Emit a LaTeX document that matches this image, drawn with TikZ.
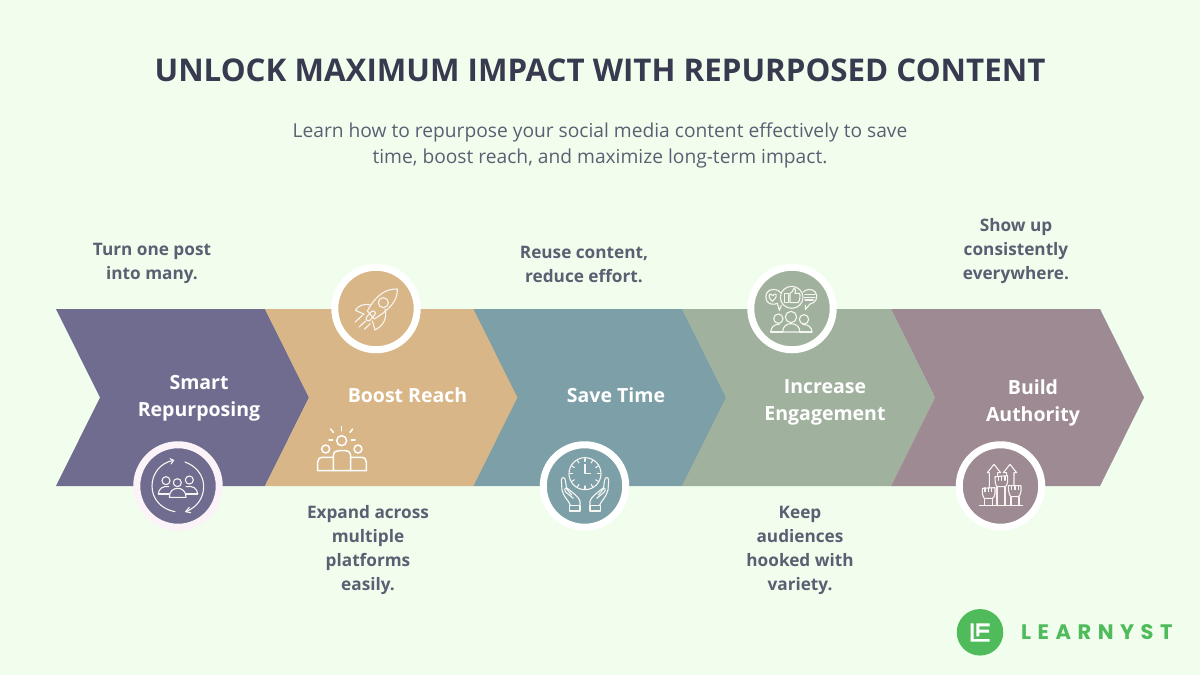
\documentclass[tikz,border=0pt]{standalone}
\usepackage{fontspec}
\setmainfont{Open Sans}
\newfontfamily\logofont[LetterSpace=31]{Poppins}
\definecolor{bgc}{HTML}{F1FEEE}
\definecolor{titlec}{HTML}{383A50}
\definecolor{subc}{HTML}{5A6072}
\definecolor{cha}{HTML}{6F6C8F}
\definecolor{chb}{HTML}{D8B687}
\definecolor{chc}{HTML}{7DA0A8}
\definecolor{chd}{HTML}{A0B29E}
\definecolor{che}{HTML}{9E8A92}
\definecolor{logoc}{HTML}{4FBB5B}
\definecolor{icoc}{HTML}{F7F5F2}
\definecolor{ringa}{HTML}{FBF3F8}
\tikzset{
  titletext/.style={text=titlec,font=\bfseries\fontsize{31.3}{40}\selectfont,inner sep=0},
  subtext/.style={text=subc,font=\fontsize{19.2}{26}\selectfont,align=center,inner sep=0},
  notetext/.style={text=subc,font=\bfseries\fontsize{17.2}{24}\selectfont,align=center,inner sep=0},
  chevtext/.style={text=white,font=\bfseries\fontsize{19.5}{27}\selectfont,align=center,inner sep=0},
  ring/.style={circle,draw=#1,line width=7pt,minimum size=82.5pt,inner sep=0},
  ico/.style={draw=icoc,line width=1.1pt,line cap=round,line join=round},
  zoomed/.style={x=0.33333pt,y=-0.33333pt},
}
\newcommand{\chev}[2]{\fill[#2] (#1,309) -- ++(209,0) -- ++(44,88.5) -- ++(-44,88.5) -- ++(-209,0) -- ++(44,-88.5) -- cycle;}
\begin{document}
\begin{tikzpicture}[x=1pt,y=-1pt]
\useasboundingbox (0,0) rectangle (1200,675);
\fill[bgc] (0,0) rectangle (1200,675);
\node[titletext] (title) at (600,70) {UNLOCK MAXIMUM IMPACT WITH REPURPOSED CONTENT};
\node[subtext] (sub) at (600,145) {Learn how to repurpose your social media content effectively to save\\time, boost reach, and maximize long-term impact.};
\chev{56}{cha}
\chev{265}{chb}
\chev{473.5}{chc}
\chev{682}{chd}
\chev{891}{che}
\node[chevtext] (c1) at (199,398.5) {Smart\\Repurposing};
\node[chevtext] (c2) at (407.5,395) {Boost Reach};
\node[chevtext] (c3) at (616,395) {Save Time};
\node[chevtext] (c4) at (825,402.5) {Increase\\Engagement};
\node[chevtext] (c5) at (1033,402.5) {Build\\Authority};
\node[notetext] (n1) at (152,263.5) {Turn one post\\into many.};
\node[notetext] (n2) at (368,550.5) {Expand across\\multiple\\platforms\\easily.};
\node[notetext] (n3) at (584,264) {Reuse content,\\reduce effort.};
\node[notetext] (n4) at (800,550.5) {Keep\\audiences\\hooked with\\variety.};
\node[notetext] (n5) at (1016,251.5) {Show up\\consistently\\everywhere.};
% medallions
\node[ring=ringa,fill=cha] (m1) at (178,486) {};
\node[ring=white,fill=chb] (m2) at (376,308.5) {};
\node[ring=white,fill=chc] (m3) at (584.5,486) {};
\node[ring=white,fill=chd] (m4) at (792,308.5) {};
\node[ring=white,fill=che] (m5) at (1000.5,486) {};
% icon 1
\begin{scope}[shift={(120pt,-430pt)},zoomed,ico]
\draw (165,245) .. controls (125,238) and (96,208) .. (96,168) .. controls (96,130) and (122,98) .. (160,91);
\draw (150,86) -- (161,91) -- (153,102);
\draw (195,96) .. controls (228,108) and (251,135) .. (251,170) .. controls (251,205) and (230,232) .. (198,245);
\draw (208,232) -- (197,245) -- (212,248);
\draw (138,152) circle (12);
\draw (172,158) circle (12);
\draw (208,150) circle (12);
\draw (115,192) .. controls (116,175) and (130,167) .. (146,170);
\draw (115,192) -- (148,192);
\draw (233,192) .. controls (232,175) and (218,166) .. (198,170);
\draw (233,192) -- (198,192);
\draw (148,202) .. controls (148,183) and (160,175) .. (173,175) .. controls (186,175) and (198,183) .. (198,202) -- cycle;
\end{scope}
% icon 2 rocket
\begin{scope}[shift={(320pt,-255pt)},zoomed,ico]
\draw (232,102) .. controls (195,100) and (165,125) .. (142,168) -- (163,192) .. controls (205,165) and (234,140) .. (232,102);
\draw (190,143) circle (15);
\draw (152,150) .. controls (130,145) and (115,152) .. (106,166) -- (133,178);
\draw (195,162) .. controls (202,190) and (190,212) .. (165,225) -- (157,198);
\draw (140,186) -- (154,170) .. controls (160,164) and (170,172) .. (165,178) -- (150,196) .. controls (144,202) and (134,193) .. (140,186);
\draw (105,202) -- (128,180);
\draw (117,216) -- (137,198);
\draw (133,223) -- (151,206);
\end{scope}
% icon 2b bare people
\begin{scope}[shift={(120pt,-430pt)},zoomed,ico,line width=1.5pt,draw=white]
\draw (665,32) circle (15);
\draw (617,57) circle (12);
\draw (714,57) circle (12);
\draw (640,122) -- (640,78) .. controls (640,66) and (648,62) .. (656,62) -- (676,62) .. controls (686,62) and (692,68) .. (692,78) -- (692,122) -- cycle;
\draw (640,82) -- (608,82) .. controls (598,82) and (593,88) .. (593,96) -- (593,122) -- (640,122);
\draw (692,82) -- (724,82) .. controls (734,82) and (739,88) .. (739,96) -- (739,122) -- (692,122);
\draw (665,2) -- (665,-10);
\draw (640,7) -- (632,-3);
\draw (690,7) -- (698,-3);
\draw (627,30) -- (638,30);
\draw (694,30) -- (705,30);
\end{scope}
% icon 3 clock and hands
\begin{scope}[shift={(530pt,-435pt)},zoomed,ico]
\draw (165,116) circle (48);
\draw (165,88) -- (165,116) -- (182,116);
\foreach \a in {0,30,...,330} {\draw (165,116) ++(\a:37) -- ++(\a:8);}
\foreach \m/\s in {0/1,330/-1} {
  \begin{scope}[shift={(\m,0)},xscale=\s]
  \draw (118,212) -- (150,212) -- (150,228) -- (118,228) -- cycle;
  \draw (122,212) .. controls (115,195) and (100,185) .. (96,165) -- (94,135) .. controls (95,125) and (104,125) .. (106,135) -- (110,162) -- (125,180);
  \draw (150,212) -- (150,198) .. controls (148,188) and (125,170) .. (112,160) .. controls (106,156) and (100,165) .. (108,172) -- (130,190);
  \end{scope}
}
\end{scope}
% icon 4 speech bubbles and people
\begin{scope}[shift={(740pt,-258pt)},zoomed,ico]
\draw (112,136) .. controls (100,142) and (85,138) .. (80,128) .. controls (72,112) and (82,94) .. (100,94) .. controls (110,94) and (118,98) .. (122,104);
\draw (112,136) -- (118,157) -- (124,142);
\draw (97,130) .. controls (85,120) and (85,108) .. (92,108) .. controls (96,108) and (97,111) .. (98,113) .. controls (99,111) and (101,108) .. (105,108) .. controls (112,108) and (110,120) .. (97,130) -- cycle;
\draw (155,118) ellipse (34 and 33);
\draw (133,106) rectangle (146,134);
\draw (150,134) -- (150,106) .. controls (156,104) and (160,98) .. (161,92) .. controls (168,90) and (168,100) .. (165,106) -- (178,106) .. controls (182,108) and (180,130) .. (174,134) -- cycle;
\draw (190,102) .. controls (196,94) and (215,90) .. (226,102) .. controls (236,115) and (228,136) .. (210,138) -- (196,155) -- (196,142);
\draw (195,110) -- (225,110);
\draw (193,118) -- (225,118);
\draw (195,126) -- (220,126);
\draw (115,182) circle (14);
\draw (153,177) circle (17);
\draw (192,184) circle (14);
\draw (128,222) .. controls (128,205) and (140,197) .. (153,197) .. controls (166,197) and (180,205) .. (180,222) -- cycle;
\draw (92,222) .. controls (92,208) and (103,198) .. (120,198);
\draw (92,222) -- (128,222);
\draw (216,222) .. controls (216,208) and (205,199) .. (188,199);
\draw (216,222) -- (180,222);
\end{scope}
% icon 5 arrows and fists
\begin{scope}[shift={(945pt,-435pt)},zoomed,ico]
\draw (103,212) -- (233,212);
\draw (133,158) -- (133,113) -- (127,113) -- (147,88) -- (167,113) -- (158,113) -- (158,122);
\draw (185,122) -- (185,113) -- (175,113) -- (195,88) -- (215,113) -- (207,113) -- (207,150);
\draw (112,160) -- (150,158) -- (150,175) .. controls (148,186) and (145,190) .. (142,190) -- (118,190) .. controls (113,186) and (112,175) .. (112,160);
\draw (120,158) -- (120,170);
\draw (130,158) -- (130,170);
\draw (140,158) -- (140,170);
\draw (118,190) -- (118,212);
\draw (142,190) -- (142,212);
\draw (150,125) -- (188,122) -- (188,140) .. controls (186,150) and (183,155) .. (180,155) -- (156,155) .. controls (151,150) and (150,138) .. (150,125);
\draw (160,124) -- (160,136);
\draw (170,124) -- (170,136);
\draw (180,124) -- (180,136);
\draw (156,155) -- (156,212);
\draw (180,155) -- (180,212);
\draw (190,152) -- (228,152) -- (228,168) .. controls (226,178) and (223,185) .. (220,185) -- (198,185) .. controls (192,180) and (190,165) .. (190,152);
\draw (200,152) -- (200,164);
\draw (210,152) -- (210,164);
\draw (220,152) -- (220,164);
\draw (198,185) -- (198,212);
\draw (222,185) -- (222,212);
\end{scope}
% logo
\node[circle,fill=logoc,minimum size=46.5pt,inner sep=0] (logo) at (980,632.3) {};
\begin{scope}[shift={(955pt,-605pt)},zoomed]
\fill[white] (47,55) -- (56,55) -- (56,102) -- (104,102) -- (104,110) -- (47,110) -- cycle;
\fill[white] (64,55) -- (104,55) -- (104,64) -- (73,64) -- (73,74) -- (102,74) -- (102,83) -- (73,83) -- (73,94) -- (64,94) -- cycle;
\end{scope}
\node[text=logoc,font=\logofont\bfseries\fontsize{21}{24}\selectfont,inner sep=0,anchor=west] (brand) at (1021,632.5) {LEARNYST};
\end{tikzpicture}
\end{document}
